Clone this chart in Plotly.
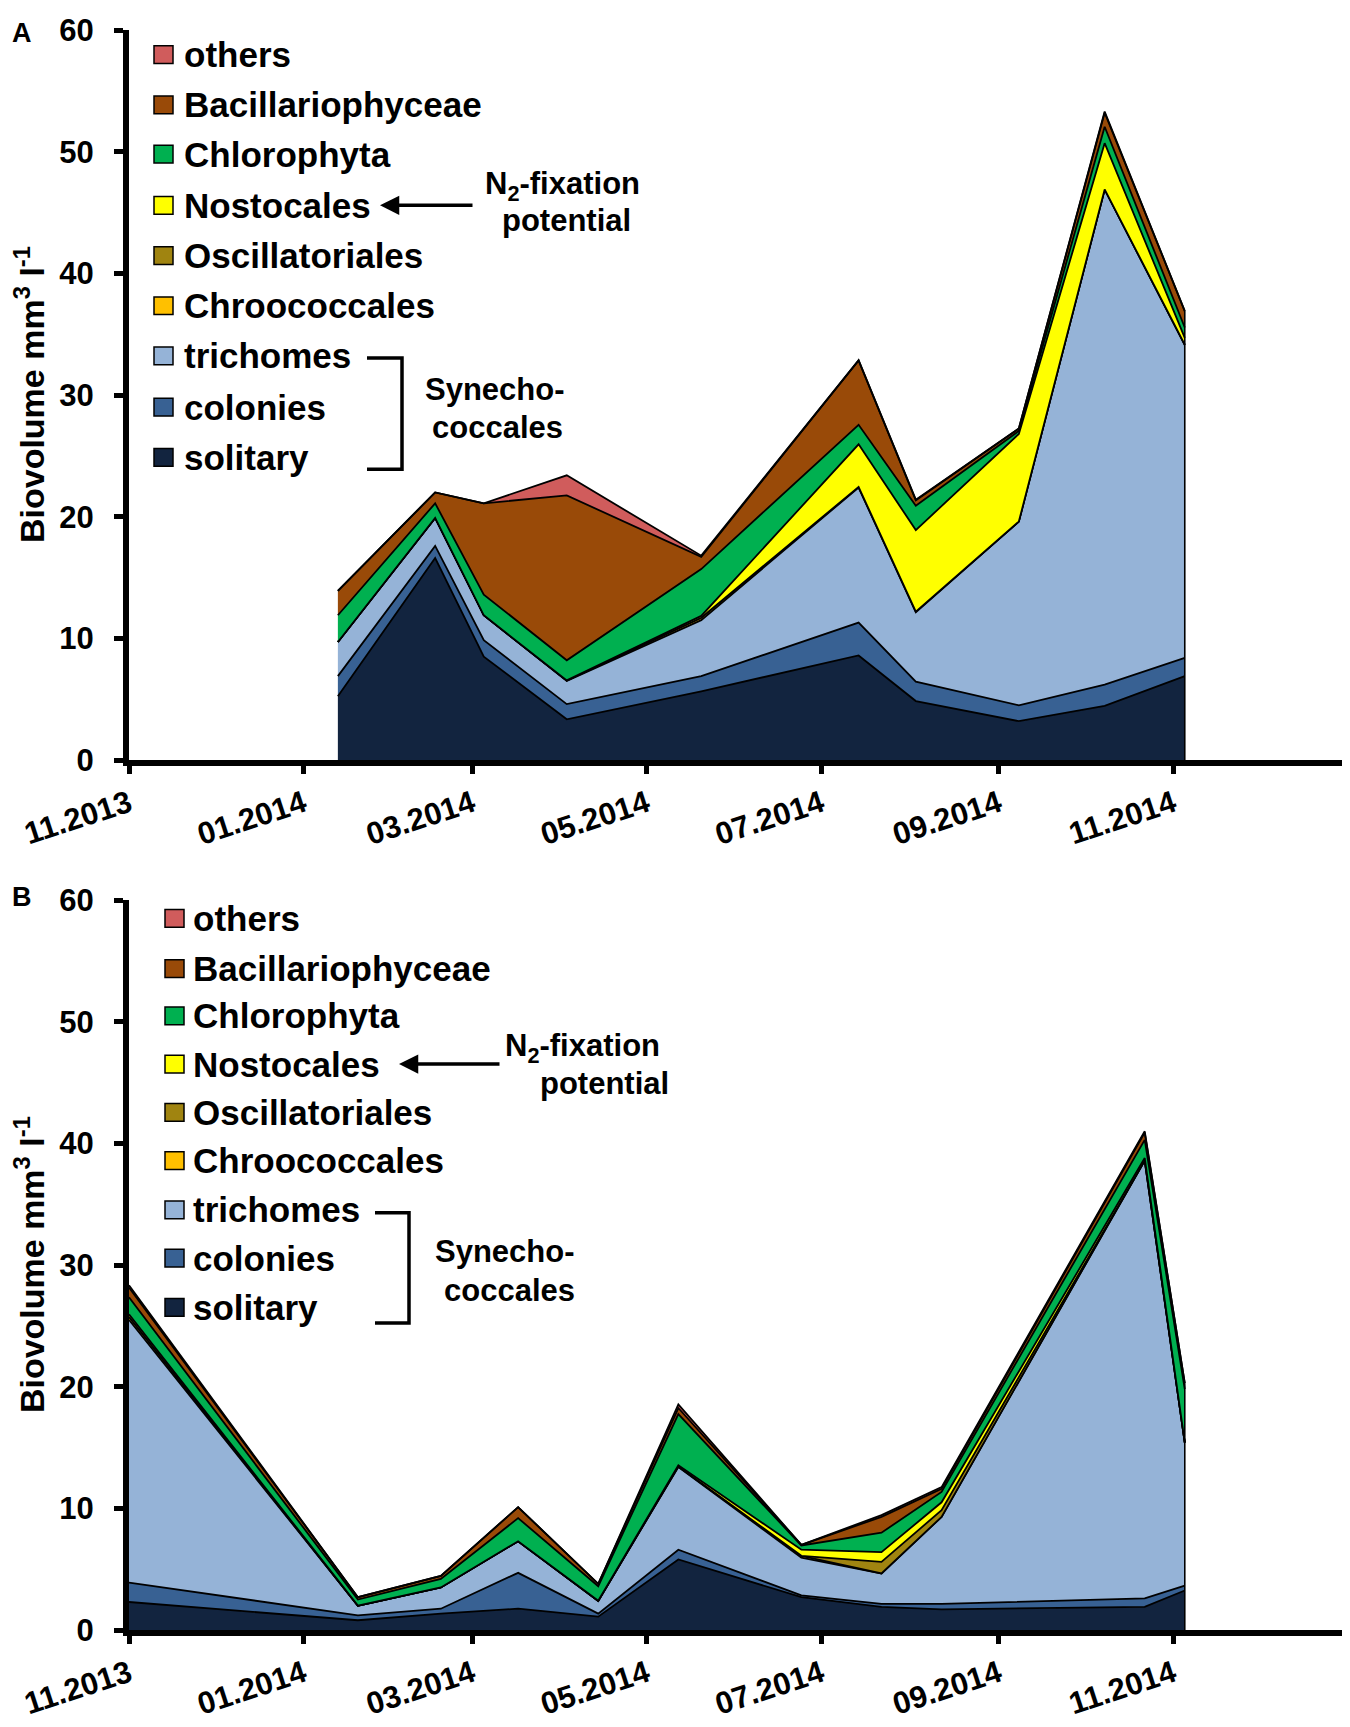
import plotly.graph_objects as go

# The page body adds an 8px margin, so the figure is shrunk by that much and
# every target position below is given in screenshot pixels.
OFF = 8
W, H = 1350 - OFF, 1727 - OFF
ML, MR, MT, MB = 121, 5, 9, 85.4

# Layer names and colours (bottom to top of the stack)
groups = ['solitary', 'colonies', 'trichomes', 'Chroococcales', 'Oscillatoriales',
          'Nostocales', 'Chlorophyta', 'Bacillariophyceae', 'others']
colors = ['#12243F', '#386193', '#95B3D7', '#FFC000', '#A08410',
          '#FFFF00', '#00B050', '#994A08', '#D05C5C']

tick_dates = ['2013-11-01', '2014-01-01', '2014-03-01', '2014-05-01',
              '2014-07-01', '2014-09-01', '2014-11-01']
tick_labels = ['11.2013', '01.2014', '03.2014', '05.2014', '07.2014', '09.2014', '11.2014']

# Panel A
dates_a = ['2014-01-13', '2014-02-16', '2014-03-05', '2014-04-03', '2014-05-20',
           '2014-07-14', '2014-08-03', '2014-09-08', '2014-10-08', '2014-11-05']
solitary_a = [5.25, 16.6, 8.5, 3.35, 5.65, 8.6, 4.85, 3.2, 4.45, 6.9]
colonies_a = [1.65, 1.0, 1.35, 1.25, 1.25, 2.7, 1.6, 1.3, 1.75, 1.5]
trichomes_a = [2.8, 2.3, 2.05, 1.9, 4.6, 11.1, 5.7, 15.1, 40.7, 25.7]
chroococcales_a = [0, 0, 0, 0.05, 0.2, 0.05, 0.05, 0, 0, 0.05]
oscillatoriales_a = [0, 0, 0, 0, 0, 0, 0, 0, 0, 0]
nostocales_a = [0, 0, 0, 0, 0.15, 3.5, 6.7, 7.2, 3.8, 0.55]
chlorophyta_a = [2.2, 1.2, 1.7, 1.65, 3.85, 1.6, 2.0, 0.25, 1.35, 0.85]
bacillariophyceae_a = [2.0, 0.9, 7.5, 13.55, 1.0, 5.3, 0.45, 0.2, 1.15, 1.35]
others_a = [0, 0, 0, 1.65, 0.1, 0, 0.05, 0, 0.1, 0]

# Panel B
dates_b = ['2013-11-01', '2014-01-20', '2014-02-18', '2014-03-17', '2014-04-14', '2014-05-12',
           '2014-06-24', '2014-07-22', '2014-08-12', '2014-10-22', '2014-11-05']
solitary_b = [2.3, 0.8, 1.35, 1.75, 1.1, 5.8, 2.7, 1.9, 1.7, 1.9, 3.25]
colonies_b = [1.6, 0.4, 0.4, 2.95, 0.25, 0.8, 0.15, 0.25, 0.45, 0.7, 0.4]
trichomes_b = [21.6, 0.8, 1.75, 2.6, 1.05, 6.8, 3.1, 2.5, 7.15, 36.0, 11.75]
chroococcales_b = [0.25, 0, 0, 0, 0, 0.05, 0.15, 0, 0, 0, 0]
oscillatoriales_b = [0, 0, 0, 0, 0, 0, 0, 0.95, 0.55, 0, 0]
nostocales_b = [0.2, 0, 0, 0, 0, 0.1, 0.5, 0.8, 0.65, 0.2, 0]
chlorophyta_b = [1.4, 0.5, 0.7, 1.9, 1.2, 4.2, 0.35, 1.6, 0.85, 1.5, 4.4]
bacillariophyceae_b = [0.8, 0.2, 0.25, 0.9, 0.2, 0.5, 0.05, 1.3, 0.25, 0.6, 0.5]
others_b = [0.2, 0, 0, 0, 0, 0.3, 0, 0.15, 0.15, 0.1, 0]

series_a = [solitary_a, colonies_a, trichomes_a, chroococcales_a, oscillatoriales_a,
            nostocales_a, chlorophyta_a, bacillariophyceae_a, others_a]
series_b = [solitary_b, colonies_b, trichomes_b, chroococcales_b, oscillatoriales_b,
            nostocales_b, chlorophyta_b, bacillariophyceae_b, others_b]

FONT = 'Liberation Sans, Arial, sans-serif'


def px(x):
    # screenshot x -> paper x
    return (x - OFF - ML) / (W - ML - MR)


def py(y):
    # screenshot y -> paper y
    return (H - MB - (y - OFF)) / (H - MT - MB)


fig = go.Figure()

for panel, dates, series in [('A', dates_a, series_a), ('B', dates_b, series_b)]:
    xa = 'x' if panel == 'A' else 'x2'
    ya = 'y' if panel == 'A' else 'y2'
    for name, col, vals in zip(groups, colors, series):
        fig.add_trace(go.Scatter(
            x=dates, y=vals, name=name, mode='lines',
            stackgroup=panel, fillcolor=col,
            line=dict(color='black', width=1.8),
            xaxis=xa, yaxis=ya, showlegend=False, hoverinfo='skip'
        ))
    # closing edge at the last sample
    total_last = sum(s[-1] for s in series)
    fig.add_trace(go.Scatter(
        x=[dates[-1], dates[-1]], y=[0, total_last], mode='lines',
        line=dict(color='black', width=1.6), xaxis=xa, yaxis=ya,
        showlegend=False, hoverinfo='skip'
    ))

xaxis_style = dict(
    type='date', range=['2013-11-01', '2014-12-31'],
    tickvals=tick_dates, ticktext=tick_labels, tickangle=-18,
    ticks='outside', ticklen=8, tickwidth=5, tickcolor='black',
    showline=True, linewidth=6, linecolor='black',
    showgrid=False, zeroline=False,
    tickfont=dict(family=FONT, size=31, color='black', weight='bold')
)
yaxis_style = dict(
    range=[0, 60], dtick=10, tick0=0,
    ticks='outside', ticklen=9, tickwidth=5, tickcolor='black',
    showline=True, linewidth=6, linecolor='black',
    showgrid=False, zeroline=False, ticklabelstandoff=14,
    tickfont=dict(family=FONT, size=31, color='black', weight='bold')
)

dom_a = [py(758.3), 1.0]
dom_b = [0.0, py(900.6)]

fig.update_layout(
    width=W, height=H,
    margin=dict(l=ML, r=MR, t=MT, b=MB),
    paper_bgcolor='white', plot_bgcolor='white',
    xaxis=dict(xaxis_style, anchor='y', domain=[0, 1]),
    yaxis=dict(yaxis_style, anchor='x', domain=dom_a),
    xaxis2=dict(xaxis_style, anchor='y2', domain=[0, 1]),
    yaxis2=dict(yaxis_style, anchor='x2', domain=dom_b),
    font=dict(family=FONT, color='black')
)

shapes = []
annotations = []

# Hand-built legends, one per panel
legend_cfg = {
    'A': dict(sq_x=154, txt_x=182, rows=[42, 93, 143, 195, 246, 297, 348, 400, 451]),
    'B': dict(sq_x=165, txt_x=191, rows=[919, 970, 1018, 1067, 1116, 1165, 1215, 1264, 1314]),
}
legend_order = list(range(len(groups)))[::-1]
for panel, cfg in legend_cfg.items():
    for row_y, gi in zip(cfg['rows'], legend_order):
        shapes.append(dict(
            type='rect', xref='paper', yref='paper',
            x0=px(cfg['sq_x']), x1=px(cfg['sq_x'] + 19),
            y0=py(row_y + 9), y1=py(row_y - 9),
            fillcolor=colors[gi], line=dict(color='black', width=1.5)
        ))
        annotations.append(dict(
            xref='paper', yref='paper', x=px(cfg['txt_x']), y=py(row_y),
            xanchor='left', yanchor='middle', showarrow=False, text=groups[gi],
            font=dict(family=FONT, size=35, color='black', weight='bold')
        ))

# Arrow, brackets and side notes
notes = {
    'A': dict(arrow_head=(380, 195), arrow_tail=474, n2=(562, 175), pot=(566, 210),
              br=(367, 402, 350, 463), syn=(495, 382), cocc=(497, 421)),
    'B': dict(arrow_head=(399, 1067), arrow_tail=501, n2=(582, 1051), pot=(604, 1087),
              br=(375, 409, 1218, 1330), syn=(505, 1257), cocc=(509, 1297)),
}
note_font = dict(family=FONT, size=31, color='black', weight='bold')
for panel, n in notes.items():
    hx, hy = n['arrow_head']
    annotations.append(dict(
        xref='paper', yref='paper', x=px(hx), y=py(hy), text='',
        showarrow=True, axref='pixel', ayref='pixel',
        ax=n['arrow_tail'] - hx, ay=0,
        arrowhead=2, arrowsize=1.1, arrowwidth=3.5, arrowcolor='black'
    ))
    for key, txt in [('n2', 'N<sub>2</sub>-fixation'), ('pot', 'potential'),
                     ('syn', 'Synecho-'), ('cocc', 'coccales')]:
        tx, ty = n[key]
        annotations.append(dict(
            xref='paper', yref='paper', x=px(tx), y=py(ty), text=txt,
            xanchor='center', yanchor='middle', showarrow=False, font=note_font
        ))
    x0, x1, y0, y1 = n['br']
    shapes.append(dict(
        type='path', xref='paper', yref='paper',
        path=f'M {px(x0)},{py(y0)} L {px(x1)},{py(y0)} L {px(x1)},{py(y1)} L {px(x0)},{py(y1)}',
        line=dict(color='black', width=3.5)
    ))

# Axis titles and panel letters
for cy in [(17 + 758.3) / 2, (900.6 + 1641.6) / 2]:
    annotations.append(dict(
        xref='paper', yref='paper', x=px(29), y=py(cy), textangle=-90,
        text='Biovolume mm<sup>3</sup> l<sup>-1</sup>', showarrow=False,
        xanchor='center', yanchor='middle',
        font=dict(family=FONT, size=34, color='black', weight='bold')
    ))
for letter, (lx, ly) in [('A', (10, 20)), ('B', (10, 897))]:
    annotations.append(dict(
        xref='paper', yref='paper', x=px(lx), y=py(ly), text=letter,
        showarrow=False, xanchor='left', yanchor='middle',
        font=dict(family=FONT, size=27, color='black', weight='bold')
    ))

fig.update_layout(shapes=shapes, annotations=annotations)

fig.write_html('out.html')
